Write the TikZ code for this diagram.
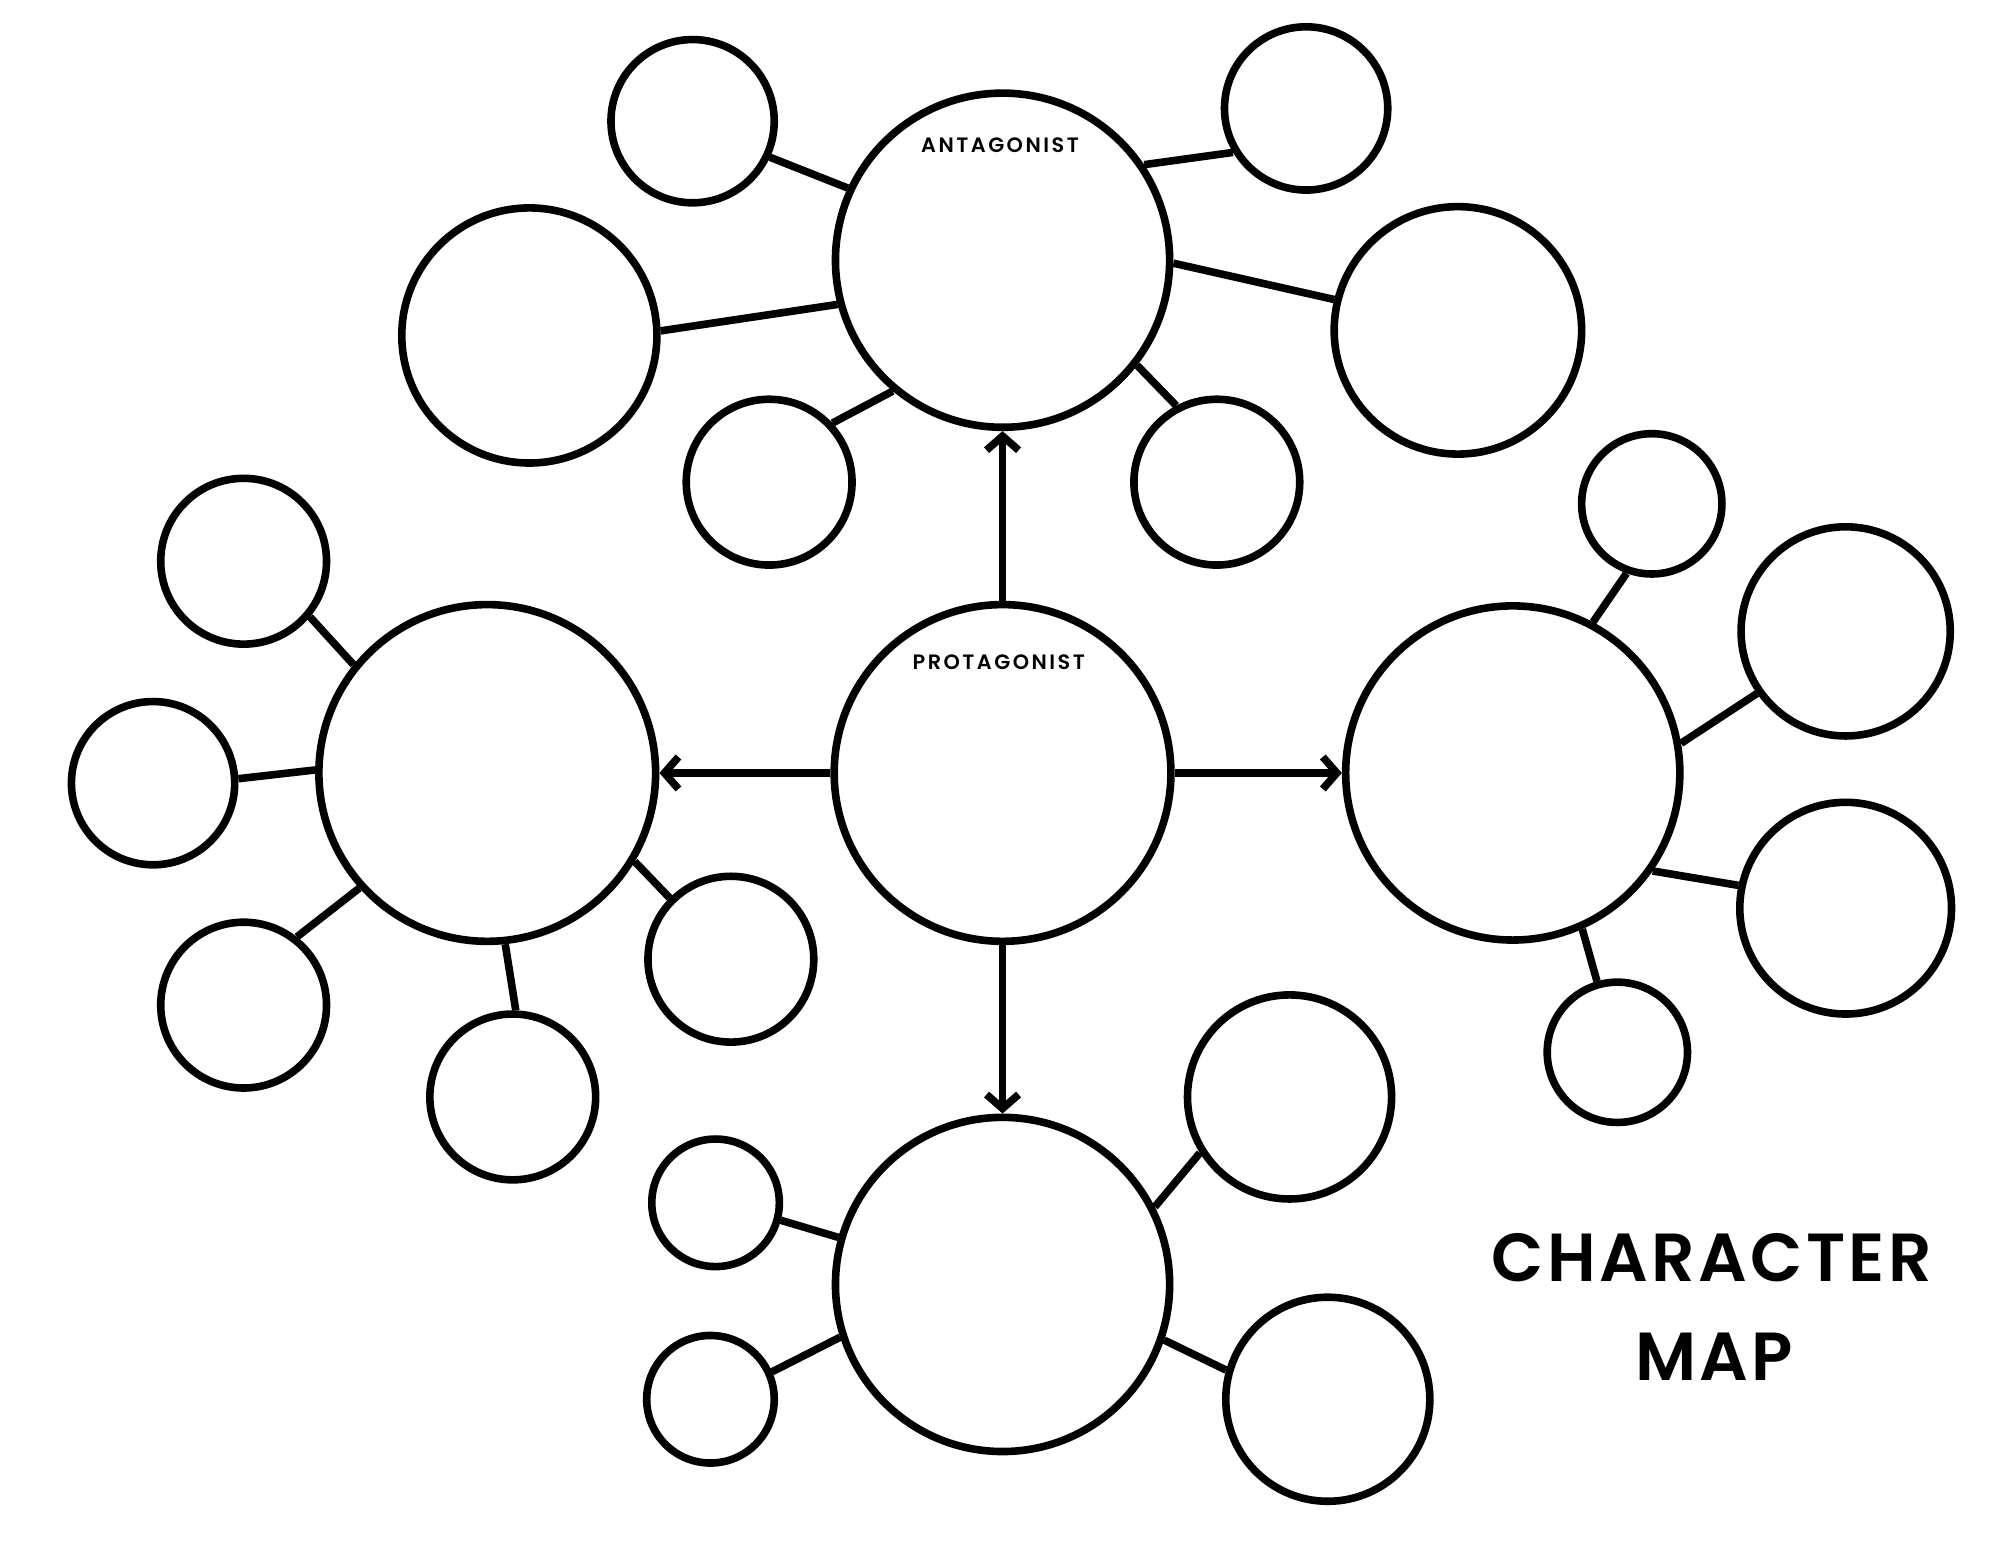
\documentclass[tikz,border=0pt]{standalone}
\usepackage{fontspec}
\usetikzlibrary{arrows.meta}
\newfontfamily\titlefont{Poppins SemiBold}[LetterSpace=5]
\newfontfamily\labfont{Poppins SemiBold}[LetterSpace=12]
\begin{document}
\begin{tikzpicture}[x=0.63775pt,y=-0.63775pt,
  bub/.style={circle,draw=black,line width=3.8pt,minimum size={(#1-3)*1.2755pt},inner sep=0pt},
  link/.style={line width=3.8pt},
  arr/.style={line width=3.8pt,-{Straight Barb[length=7pt,width=16pt]}},
  lab/.style={font=\labfont\fontsize{10.4}{12}\selectfont,inner sep=0pt},
  ttl/.style={font=\titlefont\fontsize{34}{40}\selectfont,inner sep=0pt}]
\fill[white] (0,0) rectangle (1568,1211.3);
\useasboundingbox (0,0) rectangle (1568,1211.3);
% main circles
\node[bub=134] (ant) at (786,204) {};
\node[bub=135] (pro) at (786,606) {};
\node[bub=135] (lft) at (382,606) {};
\node[bub=134] (rgt) at (1186,606) {};
\node[bub=134] (bot) at (786,1007) {};
% top cluster
\node[bub=67] (a1) at (543,95) {};
\node[bub=103] (a2) at (415,263) {};
\node[bub=68] (a3) at (603,378) {};
\node[bub=68] (a4) at (954,378) {};
\node[bub=100] (a5) at (1143,259) {};
\node[bub=67] (a6) at (1024,85) {};
% left cluster
\node[bub=68] (l1) at (191,440) {};
\node[bub=67] (l2) at (120,614) {};
\node[bub=68] (l3) at (191,788) {};
\node[bub=68] (l4) at (402,860) {};
\node[bub=68] (l5) at (573,752) {};
% right cluster
\node[bub=58] (r1) at (1295,395) {};
\node[bub=85] (r2) at (1447,495) {};
\node[bub=86] (r3) at (1447,712) {};
\node[bub=58] (r4) at (1268,825) {};
% bottom cluster
\node[bub=53] (b1) at (561,943) {};
\node[bub=83] (b2) at (1011,860) {};
\node[bub=53] (b3) at (557,1097) {};
\node[bub=83] (b4) at (1041,1097) {};
% labels
\node[lab] (antlab) at (784,114) {ANTAGONIST};
\node[lab] (prolab) at (783,519) {PROTAGONIST};
\node[ttl] (t1) at (1342,986) {CHARACTER};
\node[ttl] (t2) at (1344,1064) {MAP};
% connectors top
\draw[link] (a1.-25.5) -- (ant.155.9);
\draw[link] (a2.2) -- (ant.195.8);
\draw[link] (a3.43.8) -- (ant.230);
\draw[link] (ant.-38.4) -- (a4.118.8);
\draw[link] (ant.-1) -- (a5.166.8);
\draw[link] (ant.34.9) -- (a6.211);
% connectors left
\draw[link] (l1.-40) -- (lft.141.5);
\draw[link] (l2.3) -- (lft.179.6);
\draw[link] (l3.52.8) -- (lft.222.9);
\draw[link] (lft.-84) -- (l4.88.3);
\draw[link] (lft.-31.6) -- (l5.135.6);
% connectors right
\draw[link] (r1.250.3) -- (rgt.62.3);
\draw[link] (r2.215.7) -- (rgt.10.7);
\draw[link] (r3.168) -- (rgt.-35.4);
\draw[link] (rgt.-66.8) -- (r4.106);
% connectors bottom
\draw[link] (b1.-15.5) -- (bot.164.2);
\draw[link] (b2.212.6) -- (bot.27.7);
\draw[link] (b3.24.3) -- (bot.198.8);
\draw[link] (bot.-19.6) -- (b4.164.3);
% arrows
\draw[arr] (pro.north) -- (ant.south);
\draw[arr] (pro.west) -- (lft.east);
\draw[arr] (pro.east) -- (rgt.west);
\draw[arr] (pro.south) -- (bot.north);
\end{tikzpicture}
\end{document}
